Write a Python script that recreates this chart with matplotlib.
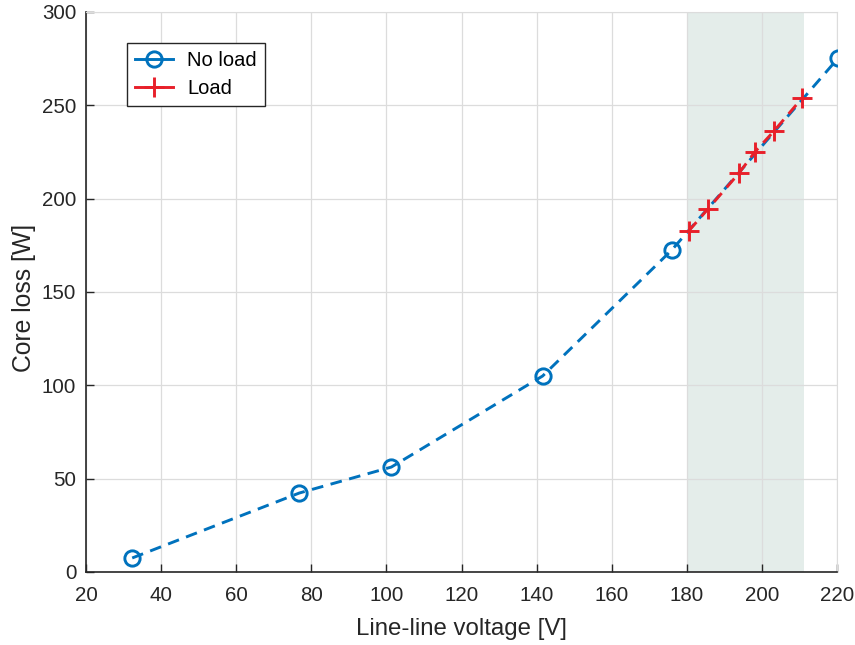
import matplotlib
matplotlib.use("Agg")
import matplotlib.pyplot as plt
from matplotlib.lines import Line2D

plt.rcParams['font.family'] = ['Liberation Sans', 'DejaVu Sans']

# No-load measurements
noload_v = [32.3, 76.8, 101.3, 141.6, 176.0, 220.3]
noload_p = [7.5, 42.3, 56.2, 105.0, 172.5, 275.3]

# Loaded measurements
load_v = [180.5, 185.6, 193.9, 198.1, 203.2, 210.7]
load_p = [182.7, 194.4, 213.7, 225.0, 236.2, 253.9]

# Operating band
band = [180.2, 211.2]

xticks = list(range(20, 221, 20))
yticks = list(range(0, 301, 50))

blue = '#0072BD'
red = '#E8202A'

fig = plt.figure(figsize=(8.55, 6.45), dpi=100)
ax = fig.add_axes([0.1006, 0.1132, 0.8784, 0.8682])

ax.axvspan(band[0], band[1], color='#e4edea', zorder=0, lw=0)

ax.plot(noload_v, noload_p, linestyle='--', color=blue, lw=2.1,
        marker='o', markersize=11, markerfacecolor='none',
        markeredgewidth=2.1, dashes=(4, 2.6), zorder=3)
ax.plot(load_v, load_p, linestyle='--', color=red, lw=2.1,
        marker='+', markersize=14, markeredgewidth=2.1,
        dashes=(4, 2.6), zorder=4)

ax.set_xlim(20, 220)
ax.set_ylim(0, 300)
ax.set_xticks(xticks)
ax.set_yticks(yticks)
ax.grid(True, color='#dcdcdc', lw=0.9, zorder=1)
for line in ax.get_xgridlines() + ax.get_ygridlines():
    line.set_zorder(1)

ax.tick_params(direction='in', length=6, width=1, labelsize=14.8,
               colors='#262626')
ax.tick_params(axis='x', pad=10)
ax.tick_params(axis='y', pad=7)
for s in ['top', 'right']:
    ax.spines[s].set_color('#dcdcdc')
for s in ['left', 'bottom']:
    ax.spines[s].set_color('#262626')
    ax.spines[s].set_linewidth(1.2)

ax.set_xlabel('Line-line voltage [V]', fontsize=17.3, color='#262626')
ax.set_ylabel('Core loss [W]', fontsize=17.8, color='#262626')
ax.xaxis.set_label_coords(0.5, -0.082)
ax.yaxis.set_label_coords(-0.0666, 0.49)

# Legend keys drawn with short solid stubs on either side of the marker
handles = [
    Line2D([], [], color=blue, lw=2.1, marker='o', markersize=11,
           markerfacecolor='none', markeredgewidth=2.1),
    Line2D([], [], color=red, lw=2.1, marker='+', markersize=14,
           markeredgewidth=2.1),
]
leg = ax.legend(handles, ['No load', 'Load'], loc='upper left',
                bbox_to_anchor=(0.0546, 0.9446),
                borderaxespad=0, fontsize=14.5, frameon=True,
                fancybox=False, framealpha=1, edgecolor='#262626',
                handlelength=1.9, borderpad=0.4, labelspacing=0.45,
                handletextpad=0.7)
leg.get_frame().set_linewidth(1.0)

fig.savefig('out.png', dpi=100)
